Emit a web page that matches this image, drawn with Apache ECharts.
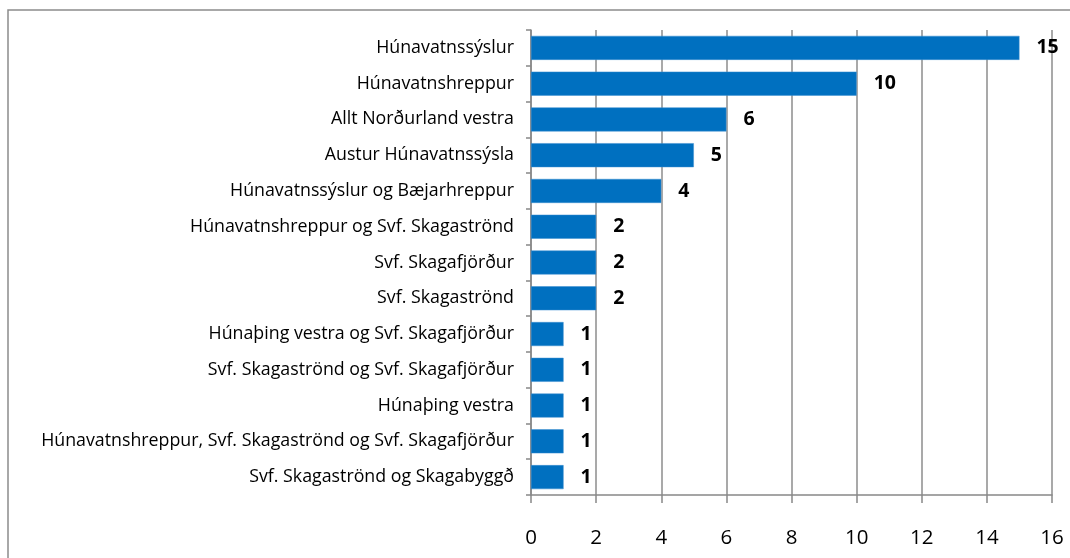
<!DOCTYPE html>
<html>
<head>
<meta charset="utf-8">
<script src="https://cdn.jsdelivr.net/npm/echarts@6/dist/echarts.min.js"></script>
<style>
  html, body { margin: 0; padding: 0; background: #fff; }
  #container { width: 1070px; height: 558px; }
</style>
</head>
<body>
<div id="container"></div>
<script>
// 数据
var categories = [
  'Húnavatnssýslur',
  'Húnavatnshreppur',
  'Allt Norðurland vestra',
  'Austur Húnavatnssýsla',
  'Húnavatnssýslur og Bæjarhreppur',
  'Húnavatnshreppur og Svf. Skagaströnd',
  'Svf. Skagafjörður',
  'Svf. Skagaströnd',
  'Húnaþing vestra og Svf. Skagafjörður',
  'Svf. Skagaströnd og Svf. Skagafjörður',
  'Húnaþing vestra',
  'Húnavatnshreppur, Svf. Skagaströnd og Svf. Skagafjörður',
  'Svf. Skagaströnd og Skagabyggð'
];
var values = [15, 10, 6, 5, 4, 2, 2, 2, 1, 1, 1, 1, 1];
var xTicks = { min: 0, max: 16, interval: 2 };

var dom = document.getElementById('container');
var myChart = echarts.init(dom, null, { renderer: 'canvas' });

var font = '"Open Sans", sans-serif';

var option = {
  animation: false,
  backgroundColor: '#fff',
  // 外框
  graphic: [{
    type: 'rect',
    shape: { x: 8, y: 10, width: 1100, height: 600 },
    style: { fill: 'none', stroke: '#8c8c8c', lineWidth: 1.5 },
    silent: true
  }],
  grid: { left: 531, right: 18, top: 30, bottom: 63 },
  xAxis: {
    type: 'value',
    min: xTicks.min,
    max: xTicks.max,
    interval: xTicks.interval,
    axisLine: { show: true, lineStyle: { color: '#888', width: 1.5 } },
    axisTick: { show: true, length: 8, lineStyle: { color: '#888', width: 1.5 } },
    axisLabel: { color: '#000', fontSize: 20.5, fontFamily: font, margin: 33 },
    splitLine: { show: true, lineStyle: { color: '#8c8c8c', width: 1.5 } }
  },
  yAxis: {
    type: 'category',
    inverse: true,
    data: categories,
    axisLine: { show: true, lineStyle: { color: '#888', width: 1.5 } },
    axisTick: { show: true, length: 5, lineStyle: { color: '#888', width: 1.5 } },
    axisLabel: { color: '#000', fontSize: 17.8, fontFamily: font, margin: 17 }
  },
  series: [{
    type: 'bar',
    data: values,
    barWidth: 24,
    itemStyle: { color: '#0070C0', borderColor: '#3d8fd0', borderWidth: 0.5 },
    label: {
      show: true,
      position: 'right',
      distance: 17,
      color: '#000',
      fontSize: 19.5,
      fontWeight: 'bold',
      fontFamily: font
    }
  }]
};

myChart.setOption(option);
window.addEventListener('resize', function () {
  myChart.resize();
});
</script>
</body>
</html>
